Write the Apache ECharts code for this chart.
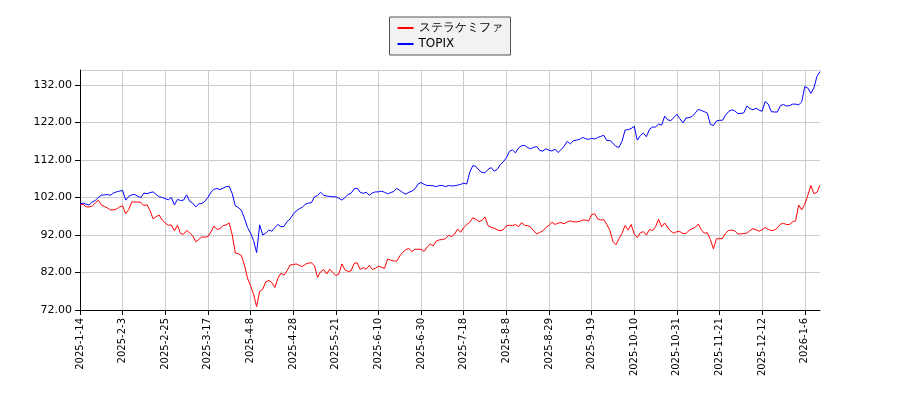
<!DOCTYPE html>
<html>
<head>
<meta charset="utf-8">
<script src="https://cdn.jsdelivr.net/npm/echarts@6/dist/echarts.min.js"></script>
<style>html,body{margin:0;padding:0;background:#fff}#chart{width:900px;height:400px}</style>
</head>
<body>
<div id="chart"></div>
<script>
// 株価指数 (2025-01-14 = 100)
var stockName = 'ステラケミファ';
var indexName = 'TOPIX';

var stockValues = [
100.0,100.2,99.5,99.5,99.7,100.5,101.3,100.0,99.6,99.2,98.7,98.7,98.9,99.5,99.8,97.7,98.8,100.8,100.8,100.8,
100.7,99.8,100.1,98.5,96.3,96.9,97.3,96.0,95.2,94.6,94.7,93.1,94.6,92.4,92.2,93.2,92.6,91.8,90.2,90.8,
91.5,91.4,91.6,92.8,94.4,93.5,93.7,94.5,94.7,95.2,92.0,87.2,87.0,86.5,84.0,80.5,78.5,76.2,72.9,77.0,
77.5,79.5,79.9,79.3,78.0,80.5,81.8,81.3,82.5,84.0,84.1,84.3,83.9,83.6,84.2,84.5,84.6,83.8,80.7,82.2,
82.8,81.6,82.9,82.0,81.2,81.6,84.3,82.7,82.3,82.4,84.4,84.6,82.8,83.3,82.9,83.9,82.8,83.1,83.7,83.4,
83.1,85.6,85.3,85.1,85.0,86.4,87.4,88.1,88.4,87.6,88.2,88.2,88.2,87.6,88.8,89.6,89.1,90.4,90.7,90.8,
91.0,91.9,91.6,92.2,93.6,92.7,94.0,94.8,95.4,96.6,96.2,95.6,95.9,96.8,94.5,94.0,93.8,93.4,93.1,93.4,
94.5,94.6,94.5,94.8,94.2,95.3,94.6,94.5,94.1,93.1,92.3,92.7,93.1,94.0,94.6,95.4,94.8,95.2,95.3,95.0,
95.5,95.8,95.5,95.5,95.6,96.0,96.0,95.7,97.4,97.7,96.3,96.0,96.1,94.8,93.2,90.3,89.4,91.0,92.5,94.5,
93.3,94.8,92.2,91.3,92.6,92.9,92.0,93.5,93.2,94.2,96.2,94.2,95.2,94.0,93.0,92.5,92.9,92.9,92.4,92.4,
93.2,93.7,94.0,94.9,93.4,92.5,92.6,90.8,88.3,91.0,91.0,91.1,92.5,93.2,93.3,93.1,92.3,92.3,92.4,92.5,
93.2,93.7,93.4,93.0,93.4,94.0,93.5,93.2,93.3,93.9,94.9,95.1,94.8,94.8,95.5,95.8,100.0,98.7,100.2,102.6,
105.2,103.0,103.4,105.3
];

var indexValues = [
100.3,100.5,100.2,100.0,100.8,101.2,102.0,102.6,102.7,102.8,102.6,103.2,103.5,103.7,103.9,101.3,102.3,102.7,102.8,102.3,
102.0,103.2,103.0,103.3,103.5,102.8,102.2,102.0,101.7,101.4,102.0,100.0,101.5,101.2,101.3,102.7,101.0,100.5,99.5,100.3,
100.4,101.0,102.0,103.4,104.2,104.4,104.1,104.5,104.9,105.0,103.0,99.8,99.3,98.6,96.5,94.0,92.5,90.5,87.3,94.7,
92.0,92.5,93.3,93.0,94.0,94.8,94.2,94.3,95.6,96.3,97.5,98.4,99.0,99.4,100.2,100.5,100.6,102.2,102.5,103.4,
102.6,102.4,102.3,102.2,102.2,101.8,101.3,102.0,102.8,103.1,104.3,104.5,103.4,103.1,103.4,102.6,103.2,103.5,103.5,103.7,
103.4,103.0,103.3,103.6,104.4,103.9,103.3,102.9,103.4,103.7,104.3,105.6,106.0,105.5,105.2,105.2,105.1,104.9,105.2,105.2,
104.9,105.2,105.1,105.1,105.3,105.5,105.8,105.6,108.8,110.5,110.3,109.3,108.7,108.6,109.5,110.0,109.0,109.5,110.7,111.5,
112.6,114.3,114.7,113.9,115.2,115.8,115.9,115.3,115.0,115.4,115.6,114.5,114.4,115.0,114.6,114.4,114.9,114.0,114.8,115.7,
117.0,116.3,117.1,117.3,117.5,118.0,117.7,117.5,117.8,117.6,118.0,118.3,118.6,117.2,117.2,116.5,115.6,115.4,117.0,120.0,
120.1,120.4,121.0,117.3,118.5,119.2,118.2,120.2,120.8,120.8,121.6,121.3,123.7,122.7,122.5,123.3,124.2,123.0,121.9,123.2,
123.3,123.6,124.5,125.5,125.2,124.9,124.5,121.5,121.2,122.4,122.6,122.6,124.0,124.9,125.4,125.1,124.4,124.4,124.6,126.4,
125.7,125.4,125.8,125.3,125.0,127.6,126.9,124.9,124.8,124.8,126.5,126.8,126.4,126.5,126.9,126.9,126.7,127.5,131.6,131.2,
129.8,131.2,134.3,135.6
];

// days with no data point
var skipDays = ['2025-2-11','2025-2-24','2025-3-20','2025-3-31','2025-4-29','2025-5-5','2025-5-6','2025-7-21','2025-8-11',
  '2025-9-15','2025-9-23','2025-10-13','2025-11-3','2025-11-24','2025-12-31','2026-1-1','2026-1-2','2026-1-12'];

var yMin = 72;
var yMax = 136;
var yStep = 10;
var labelEvery = 14;

// trading days, one per value
var dates = [];
var d = new Date(2025, 0, 14);
while (dates.length < stockValues.length) {
    var s = d.getFullYear() + '-' + (d.getMonth() + 1) + '-' + d.getDate();
    var wd = d.getDay();
    if (wd !== 0 && wd !== 6 && skipDays.indexOf(s) < 0) {
        dates.push(s);
    }
    d.setDate(d.getDate() + 1);
}

function showTick(i) { return i % labelEvery === 0; }

var chart = echarts.init(document.getElementById('chart'));

var option = {
    animation: false,
    textStyle: {fontFamily: 'DejaVu Sans'},
    legend: {
        top: 17,
        left: 'center',
        orient: 'vertical',
        itemWidth: 16,
        itemHeight: 2,
        itemGap: 4,
        padding: [5, 8],
        borderColor: '#555',
        borderWidth: 1,
        backgroundColor: '#f2f2f2',
        textStyle: {fontSize: 12, color: '#000'},
        data: [
            {name: stockName, icon: 'rect'},
            {name: indexName, icon: 'rect'}
        ]
    },
    grid: {left: 80, right: 80, top: 70, bottom: 90},
    xAxis: {
        type: 'category',
        data: dates,
        boundaryGap: false,
        axisLine: {lineStyle: {color: '#000'}},
        axisTick: {interval: showTick, lineStyle: {color: '#000'}},
        axisLabel: {interval: showTick, rotate: 90, fontSize: 10, color: '#000'},
        splitLine: {show: true, interval: showTick, lineStyle: {color: '#ccc'}}
    },
    yAxis: {
        type: 'value',
        min: yMin,
        max: yMax,
        interval: yStep,
        axisLine: {show: true, lineStyle: {color: '#000'}},
        axisTick: {show: true},
        axisLabel: {
            fontSize: 11,
            color: '#000',
            showMaxLabel: false,
            formatter: function (v) { return v.toFixed(2); }
        },
        splitLine: {lineStyle: {color: '#ccc'}}
    },
    series: [
        {
            name: stockName,
            type: 'line',
            data: stockValues,
            showSymbol: false,
            lineStyle: {color: '#ff0000', width: 1},
            itemStyle: {color: '#ff0000'}
        },
        {
            name: indexName,
            type: 'line',
            data: indexValues,
            showSymbol: false,
            lineStyle: {color: '#0000ff', width: 1},
            itemStyle: {color: '#0000ff'}
        }
    ]
};

chart.setOption(option);
</script>
</body>
</html>
